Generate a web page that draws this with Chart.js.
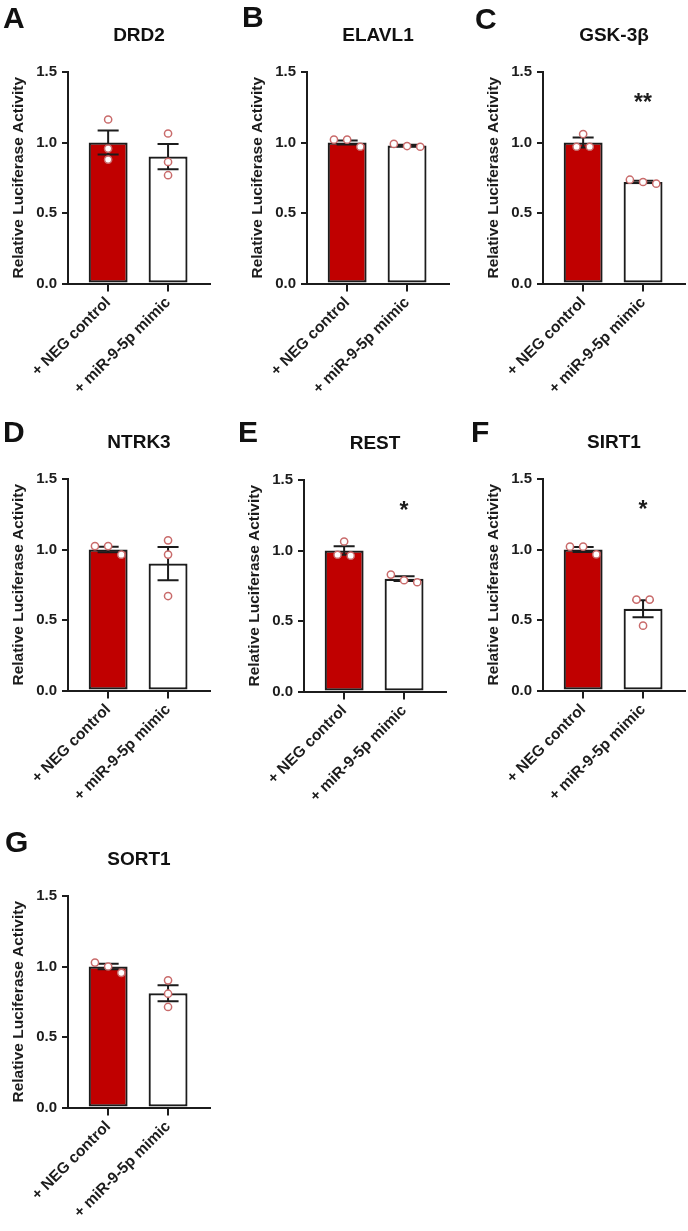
<!DOCTYPE html>
<html><head><meta charset="utf-8">
<script src="https://cdn.jsdelivr.net/npm/chart.js@4"></script>
<style>
html,body{margin:0;padding:0;background:#fff;}
body{width:688px;height:1231px;position:relative;overflow:hidden;font-family:'Liberation Sans',Arial,sans-serif;}
canvas{position:absolute;}
.lbl{position:absolute;font-weight:bold;font-size:30px;line-height:1;color:#111;}
</style></head><body>
<script>
// ---------- data ----------
const categories = ['+ NEG control', '+ miR-9-5p mimic'];
const yTickValues = [0, 0.5, 1.0, 1.5];
const genes = ['DRD2', 'ELAVL1', 'GSK-3β', 'NTRK3', 'REST', 'SIRT1', 'SORT1'];
const panelLetters = ['A', 'B', 'C', 'D', 'E', 'F', 'G'];
const sigLevel = 1.33;

const drd2Mean = [1.00, 0.90];
const drd2Sem = [0.085, 0.09];
const drd2NegPts = [1.163, 0.957, 0.879];
const drd2MimicPts = [1.064, 0.862, 0.768];
const drd2Sig = ['', ''];

const elavl1Mean = [1.00, 0.978];
const elavl1Sem = [0.015, 0.006];
const elavl1NegPts = [1.02, 1.02, 0.97];
const elavl1MimicPts = [0.99, 0.975, 0.97];
const elavl1Sig = ['', ''];

const gsk3bMean = [1.00, 0.72];
const gsk3bSem = [0.035, 0.008];
const gsk3bNegPts = [1.06, 0.97, 0.97];
const gsk3bMimicPts = [0.736, 0.72, 0.708];
const gsk3bSig = ['', '**'];

const ntrk3Mean = [1.00, 0.90];
const ntrk3Sem = [0.02, 0.118];
const ntrk3NegPts = [1.024, 1.024, 0.963];
const ntrk3MimicPts = [1.065, 0.964, 0.67];
const ntrk3Sig = ['', ''];

const restMean = [1.00, 0.80];
const restSem = [0.03, 0.017];
const restNegPts = [1.064, 0.97, 0.963];
const restMimicPts = [0.829, 0.789, 0.775];
const restSig = ['', '*'];

const sirt1Mean = [1.00, 0.58];
const sirt1Sem = [0.018, 0.06];
const sirt1NegPts = [1.02, 1.02, 0.965];
const sirt1MimicPts = [0.645, 0.645, 0.46];
const sirt1Sig = ['', '*'];

const sort1Mean = [1.00, 0.81];
const sort1Sem = [0.02, 0.057];
const sort1NegPts = [1.028, 1.0, 0.955];
const sort1MimicPts = [0.902, 0.807, 0.713];
const sort1Sig = ['', ''];

// ---------- layout ----------
const panels = [
  {mean: drd2Mean, sem: drd2Sem, neg: drd2NegPts, mimic: drd2MimicPts, sig: drd2Sig, left: 0, top: 0, lx: 3, ly: 28},
  {mean: elavl1Mean, sem: elavl1Sem, neg: elavl1NegPts, mimic: elavl1MimicPts, sig: elavl1Sig, left: 239, top: 0, lx: 242, ly: 27},
  {mean: gsk3bMean, sem: gsk3bSem, neg: gsk3bNegPts, mimic: gsk3bMimicPts, sig: gsk3bSig, left: 475, top: 0, lx: 475, ly: 29},
  {mean: ntrk3Mean, sem: ntrk3Sem, neg: ntrk3NegPts, mimic: ntrk3MimicPts, sig: ntrk3Sig, left: 0, top: 407, lx: 3, ly: 442},
  {mean: restMean, sem: restSem, neg: restNegPts, mimic: restMimicPts, sig: restSig, left: 236, top: 408, lx: 238, ly: 442},
  {mean: sirt1Mean, sem: sirt1Sem, neg: sirt1NegPts, mimic: sirt1MimicPts, sig: sirt1Sig, left: 475, top: 407, lx: 471, ly: 442},
  {mean: sort1Mean, sem: sort1Sem, neg: sort1NegPts, mimic: sort1MimicPts, sig: sort1Sig, left: 0, top: 824, lx: 5, ly: 852}
];

const INK = '#1c1c1c';
Chart.defaults.font.family = "'Liberation Sans', Arial, Helvetica, sans-serif";

// points that lie close together in value are spread sideways (GraphPad-like scatter)
function swarm(values, cat) {
  const idx = values.map((v, i) => i).sort((a, b) => values[b] - values[a]);
  const bins = []; let cur = [];
  idx.forEach(k => {
    if (cur.length && values[cur[cur.length - 1]] - values[k] >= 0.065) { bins.push(cur); cur = []; }
    cur.push(k);
  });
  if (cur.length) bins.push(cur);
  const out = [];
  bins.forEach(b => b.forEach((k, j) => out.push({x: cat + (j - (b.length - 1) / 2) * 0.22, y: values[k]})));
  return out;
}

const errorBarPlugin = {
  id: 'errorBars',
  afterDatasetDraw(chart, args) {
    if (args.meta.type !== 'bar') return;
    const ds = chart.data.datasets[args.index];
    const ys = chart.scales.y, ctx = chart.ctx;
    ctx.save();
    ctx.strokeStyle = INK; ctx.lineWidth = 2;
    args.meta.data.forEach((bar, i) => {
      const m = ds.data[i].y, s = ds.errors[i];
      const top = ys.getPixelForValue(m + s), bot = ys.getPixelForValue(m - s);
      const half = bar.width * 0.27;
      ctx.beginPath();
      ctx.moveTo(bar.x, top); ctx.lineTo(bar.x, bot);
      ctx.moveTo(bar.x - half, top); ctx.lineTo(bar.x + half, top);
      ctx.moveTo(bar.x - half, bot); ctx.lineTo(bar.x + half, bot);
      ctx.stroke();
    });
    ctx.restore();
  }
};

const sigPlugin = {
  id: 'sigMarks',
  afterDatasetsDraw(chart) {
    const ds = chart.data.datasets[0];
    const meta = chart.getDatasetMeta(0);
    const ys = chart.scales.y, ctx = chart.ctx;
    ctx.save();
    ctx.fillStyle = INK;
    ctx.font = "bold 23px 'Liberation Sans', Arial, sans-serif";
    ctx.textAlign = 'center'; ctx.textBaseline = 'alphabetic';
    meta.data.forEach((bar, i) => {
      const s = ds.sig[i];
      if (s) ctx.fillText(s, bar.x, ys.getPixelForValue(sigLevel) + 0.62 * 23);
    });
    ctx.restore();
  }
};

panels.forEach((p, n) => {
  const c = document.createElement('canvas');
  c.width = 225; c.height = 400;
  c.style.left = p.left + 'px'; c.style.top = p.top + 'px';
  c.style.width = '225px'; c.style.height = '400px';
  document.body.appendChild(c);

  const lbl = document.createElement('div');
  lbl.className = 'lbl';
  lbl.textContent = panelLetters[n];
  lbl.style.left = p.lx + 'px';
  lbl.style.top = (p.ly - 25.4) + 'px';
  document.body.appendChild(lbl);

  new Chart(c, {
    type: 'bar',
    data: {
      datasets: [
        {
          type: 'bar',
          data: p.mean.map((m, i) => ({x: i, y: m})),
          errors: p.sem,
          sig: p.sig,
          backgroundColor: ['#c00000', '#ffffff'],
          borderColor: INK, borderWidth: 2.2, borderSkipped: false,
          categoryPercentage: 0.65, barPercentage: 1,
          order: 2
        },
        {
          type: 'scatter',
          data: swarm(p.neg, 0).concat(swarm(p.mimic, 1)),
          pointRadius: 3.6, pointBorderWidth: 1.5,
          pointBorderColor: '#c96b6b', pointBackgroundColor: '#ffffff',
          order: 1
        }
      ]
    },
    options: {
      responsive: false, animation: false, events: [],
      layout: {padding: {top: 24.6, right: 15, bottom: 0, left: 0}},
      plugins: {
        legend: {display: false}, tooltip: {enabled: false},
        title: {display: true, text: genes[n], fullSize: false, color: '#111',
          font: {size: 19, weight: 'bold'}, padding: {top: 0, bottom: 24.6}}
      },
      scales: {
        x: {
          type: 'linear', min: -0.67, max: 1.7, offset: false,
          afterFit: s => { s.height = 116.5; },
          afterBuildTicks: s => { s.ticks = categories.map((_, i) => ({value: i})); },
          grid: {offset: false, drawOnChartArea: false, drawTicks: true, tickLength: 8, color: INK, lineWidth: 2},
          border: {display: true, color: INK, width: 2},
          ticks: {autoSkip: false, minRotation: 45, maxRotation: 45, padding: 2, color: INK,
            font: {size: 15.5, weight: 'bold'}, callback: v => categories[Math.round(v)]}
        },
        y: {
          min: 0, max: 1.5,
          afterFit: s => { s.width = 68; },
          afterBuildTicks: s => { s.ticks = yTickValues.map(v => ({value: v})); },
          grid: {drawOnChartArea: false, drawTicks: true, tickLength: 6, color: INK, lineWidth: 2},
          border: {display: true, color: INK, width: 2},
          ticks: {padding: 5, color: INK, font: {size: 15, weight: 'bold'}, callback: v => v.toFixed(1)},
          title: {display: true, text: 'Relative Luciferase Activity', color: INK,
            font: {size: 15.5, weight: 'bold'}, padding: {top: 9, bottom: 0}}
        }
      }
    },
    plugins: [errorBarPlugin, sigPlugin]
  });
});
</script>
</body></html>
